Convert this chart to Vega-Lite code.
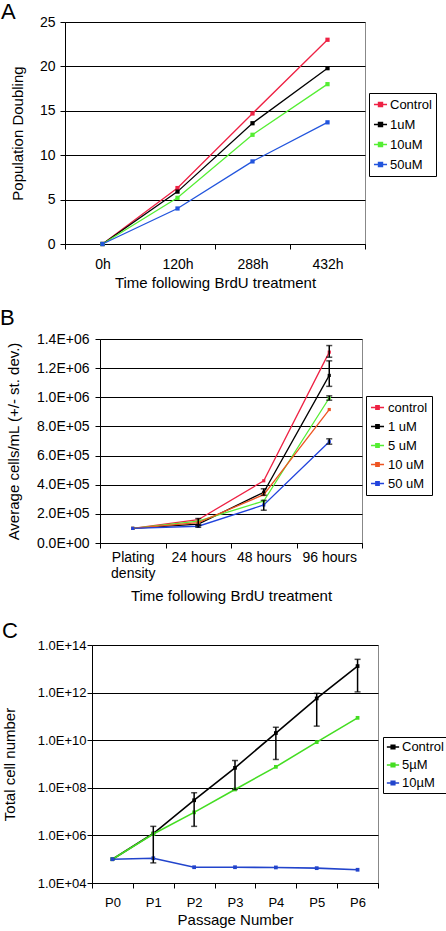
{
  "$schema": "https://vega.github.io/schema/vega-lite/v6.json",
  "padding": 0,
  "spacing": 15,
  "resolve": {
    "scale": {"x": "independent", "y": "independent", "color": "independent"},
    "axis": {"x": "independent", "y": "independent"},
    "legend": {"color": "independent"}
  },
  "config": {
    "font": "Liberation Sans",
    "view": {"stroke": "#888888", "strokeWidth": 1},
    "axis": {
      "labelFont": "Liberation Sans", "titleFont": "Liberation Sans",
      "labelFontSize": 14, "titleFontSize": 15, "titleFontWeight": "normal",
      "labelColor": "#000", "titleColor": "#000", "domainColor": "#000", "tickColor": "#000",
      "gridColor": "#000", "gridOpacity": 1, "gridWidth": 1, "tickSize": 5, "labelOverlap": false
    },
    "axisX": {"grid": false, "labelAngle": 0, "tickBand": "extent"},
    "legend": {
      "labelFont": "Liberation Sans", "labelFontSize": 13, "labelColor": "#000",
      "strokeColor": "#000", "fillColor": "#ffffff", "padding": 4, "rowPadding": 5,
      "symbolSize": 170, "symbolStrokeWidth": 1.5, "labelOffset": 2, "title": null
    },
    "title": {"font": "Liberation Sans", "fontSize": 22, "fontWeight": "normal", "color": "#000", "anchor": "start", "frame": "bounds"}
  },
  "datasets": {
    "a": [
      {"t": "0h", "s": "Control", "v": 0}, {"t": "120h", "s": "Control", "v": 6.3}, {"t": "288h", "s": "Control", "v": 14.7}, {"t": "432h", "s": "Control", "v": 23.0},
      {"t": "0h", "s": "1uM", "v": 0}, {"t": "120h", "s": "1uM", "v": 5.9}, {"t": "288h", "s": "1uM", "v": 13.6}, {"t": "432h", "s": "1uM", "v": 19.8},
      {"t": "0h", "s": "10uM", "v": 0}, {"t": "120h", "s": "10uM", "v": 5.2}, {"t": "288h", "s": "10uM", "v": 12.3}, {"t": "432h", "s": "10uM", "v": 18.0},
      {"t": "0h", "s": "50uM", "v": 0}, {"t": "120h", "s": "50uM", "v": 4.0}, {"t": "288h", "s": "50uM", "v": 9.3}, {"t": "432h", "s": "50uM", "v": 13.7}
    ],
    "b": [
      {"t": "Plating density", "s": "control", "v": 100000}, {"t": "24 hours", "s": "control", "v": 160000}, {"t": "48 hours", "s": "control", "v": 427000}, {"t": "96 hours", "s": "control", "v": 1310000},
      {"t": "Plating density", "s": "1 uM", "v": 100000}, {"t": "24 hours", "s": "1 uM", "v": 130000}, {"t": "48 hours", "s": "1 uM", "v": 348000}, {"t": "96 hours", "s": "1 uM", "v": 1150000},
      {"t": "Plating density", "s": "5 uM", "v": 100000}, {"t": "24 hours", "s": "5 uM", "v": 150000}, {"t": "48 hours", "s": "5 uM", "v": 288000}, {"t": "96 hours", "s": "5 uM", "v": 995000},
      {"t": "Plating density", "s": "10 uM", "v": 100000}, {"t": "24 hours", "s": "10 uM", "v": 140000}, {"t": "48 hours", "s": "10 uM", "v": 332000}, {"t": "96 hours", "s": "10 uM", "v": 916000},
      {"t": "Plating density", "s": "50 uM", "v": 100000}, {"t": "24 hours", "s": "50 uM", "v": 115000}, {"t": "48 hours", "s": "50 uM", "v": 261000}, {"t": "96 hours", "s": "50 uM", "v": 695000}
    ],
    "be": [
      {"t": "24 hours", "v": 125000, "v2": 168000},
      {"t": "24 hours", "v": 108000, "v2": 120000},
      {"t": "48 hours", "v": 328000, "v2": 372000},
      {"t": "48 hours", "v": 225000, "v2": 292000},
      {"t": "96 hours", "v": 1275000, "v2": 1355000},
      {"t": "96 hours", "v": 1075000, "v2": 1250000},
      {"t": "96 hours", "v": 980000, "v2": 1010000},
      {"t": "96 hours", "v": 678000, "v2": 715000}
    ],
    "c": [
      {"p": "P0", "s": "Control", "v": 1e5}, {"p": "P1", "s": "Control", "v": 1.2e6}, {"p": "P2", "s": "Control", "v": 3e7}, {"p": "P3", "s": "Control", "v": 6.9e8}, {"p": "P4", "s": "Control", "v": 2e10}, {"p": "P5", "s": "Control", "v": 5.7e11}, {"p": "P6", "s": "Control", "v": 1.3e13},
      {"p": "P0", "s": "5µM", "v": 1e5}, {"p": "P1", "s": "5µM", "v": 1.15e6}, {"p": "P2", "s": "5µM", "v": 9.3e6}, {"p": "P3", "s": "5µM", "v": 8.5e7}, {"p": "P4", "s": "5µM", "v": 7.6e8}, {"p": "P5", "s": "5µM", "v": 8.3e9}, {"p": "P6", "s": "5µM", "v": 8.7e10},
      {"p": "P0", "s": "10µM", "v": 1e5}, {"p": "P1", "s": "10µM", "v": 1.1e5}, {"p": "P2", "s": "10µM", "v": 4.6e4}, {"p": "P3", "s": "10µM", "v": 4.6e4}, {"p": "P4", "s": "10µM", "v": 4.5e4}, {"p": "P5", "s": "10µM", "v": 4.2e4}, {"p": "P6", "s": "10µM", "v": 3.6e4}
    ],
    "ce": [
      {"p": "P1", "v": 7e4, "v2": 2.4e6},
      {"p": "P2", "v": 2.4e6, "v2": 6.2e7},
      {"p": "P3", "v": 8.5e7, "v2": 1.4e9},
      {"p": "P4", "v": 1.55e9, "v2": 3.5e10},
      {"p": "P5", "v": 3.9e10, "v2": 9.3e11},
      {"p": "P6", "v": 1.07e12, "v2": 2.5e13}
    ],
    "none": []
  },
  "vconcat": [
    {
      "title": {"text": "A", "dx": 1, "offset": -9},
      "spacing": 0,
      "resolve": {"scale": {"x": "independent", "y": "independent", "color": "independent"}, "legend": {"color": "independent"}},
      "hconcat": [
        {"width": 9, "height": 1, "data": {"name": "none"}, "mark": "point", "view": {"stroke": null}},
        {
          "width": 300, "height": 222,
          "data": {"name": "a"},
          "mark": {"type": "line", "strokeWidth": 1.3, "point": {"shape": "square", "size": 18, "filled": true}},
          "encoding": {
            "x": {"field": "t", "type": "nominal", "sort": ["0h", "120h", "288h", "432h"],
                  "scale": {"type": "band", "paddingInner": 0, "paddingOuter": 0},
                  "axis": {"title": "Time following BrdU treatment", "labelPadding": 8, "titlePadding": 4}},
            "y": {"field": "v", "type": "quantitative", "scale": {"domain": [0, 25]},
                  "axis": {"title": "Population Doubling", "values": [0, 5, 10, 15, 20, 25], "labelPadding": 5, "titlePadding": 14}},
            "color": {"field": "s", "type": "nominal", "sort": ["Control", "1uM", "10uM", "50uM"],
                      "scale": {"domain": ["Control", "1uM", "10uM", "50uM"], "range": ["#ee2244", "#000000", "#55ee33", "#2255dd"]},
                      "legend": {"orient": "none", "legendX": 304, "legendY": 71, "symbolType": "M-1,0H1M-0.3,-0.3H0.3V0.3H-0.3Z"}}
          }
        }
      ]
    },
    {
      "title": {"text": "B", "dx": 0, "offset": 2},
      "spacing": 0,
      "resolve": {"scale": {"x": "independent", "y": "independent", "color": "independent"}, "legend": {"color": "independent"}},
      "hconcat": [
        {"width": 5, "height": 1, "data": {"name": "none"}, "mark": "point", "view": {"stroke": null}},
        {
          "width": 262, "height": 204,
          "encoding": {
            "x": {"field": "t", "type": "nominal", "sort": ["Plating density", "24 hours", "48 hours", "96 hours"],
                  "scale": {"type": "band", "paddingInner": 0, "paddingOuter": 0},
                  "axis": {"title": "Time following BrdU treatment", "labelPadding": 2, "titlePadding": 8,
                           "labelExpr": "datum.label == 'Plating density' ? ['Plating', 'density'] : datum.label"}},
            "y": {"field": "v", "type": "quantitative", "scale": {"domain": [0, 1400000]},
                  "axis": {"title": "Average cells/mL (+/- st. dev.)", "values": [0, 200000, 400000, 600000, 800000, 1000000, 1200000, 1400000], "labelPadding": 6, "titlePadding": 15,
                           "labelExpr": "datum.value == 0 ? '0.0E+00' : format(datum.value / pow(10, floor(log(datum.value) / LN10 + 1e-9)), '.1f') + 'E+0' + floor(log(datum.value) / LN10 + 1e-9)"}}
          },
          "layer": [
            {
              "data": {"name": "b"},
              "mark": {"type": "line", "strokeWidth": 1.3, "point": {"shape": "square", "size": 10, "filled": true}},
              "encoding": {
                "color": {"field": "s", "type": "nominal", "sort": ["control", "1 uM", "5 uM", "10 uM", "50 uM"],
                          "scale": {"domain": ["control", "1 uM", "5 uM", "10 uM", "50 uM"], "range": ["#ee2244", "#000000", "#55ee33", "#ee5522", "#2244dd"]},
                          "legend": {"orient": "none", "legendX": 266, "legendY": 57, "padding": 4, "rowPadding": 4, "labelOffset": 3, "symbolType": "M-1,0H1M-0.25,-0.25H0.25V0.25H-0.25Z"}}
              }
            },
            {
              "data": {"name": "be"},
              "mark": {"type": "errorbar", "color": "#000", "thickness": 1.5, "ticks": {"size": 6, "thickness": 1.5, "color": "#000"}},
              "encoding": {"y2": {"field": "v2"}}
            }
          ]
        }
      ]
    },
    {
      "title": {"text": "C", "dx": 2, "offset": -4},
      "spacing": 0,
      "resolve": {"scale": {"x": "independent", "y": "independent", "color": "independent"}, "legend": {"color": "independent"}},
      "hconcat": [
        {"width": 1, "height": 1, "data": {"name": "none"}, "mark": "point", "view": {"stroke": null}},
        {
          "width": 286, "height": 238,
          "encoding": {
            "x": {"field": "p", "type": "nominal", "sort": ["P0", "P1", "P2", "P3", "P4", "P5", "P6"],
                  "scale": {"type": "band", "paddingInner": 0, "paddingOuter": 0},
                  "axis": {"title": "Passage Number", "labelPadding": 8, "titlePadding": 3, "labelFontSize": 13}},
            "y": {"field": "v", "type": "quantitative", "scale": {"type": "log", "domain": [1e4, 1e14]},
                  "axis": {"title": "Total cell number", "values": [1e4, 1e6, 1e8, 1e10, 1e12, 1e14], "labelPadding": 1, "titlePadding": 20, "labelFontSize": 13,
                           "labelExpr": "'1.0E+' + (round(log(datum.value) / LN10) < 10 ? '0' : '') + round(log(datum.value) / LN10)"}}
          },
          "layer": [
            {
              "data": {"name": "c"},
              "mark": {"type": "line", "strokeWidth": 1.6, "point": {"shape": "square", "size": 14, "filled": true}},
              "encoding": {
                "color": {"field": "s", "type": "nominal", "sort": ["Control", "5µM", "10µM"],
                          "scale": {"domain": ["Control", "5µM", "10µM"], "range": ["#000000", "#44dd22", "#2244cc"]},
                          "legend": {"orient": "none", "legendX": 291, "legendY": 92, "padding": 3, "rowPadding": 4, "symbolSize": 150, "symbolType": "M-1,0H1M-0.3,-0.3H0.3V0.3H-0.3Z"}}
              }
            },
            {
              "data": {"name": "ce"},
              "mark": {"type": "errorbar", "color": "#000", "thickness": 1.5, "ticks": {"size": 6, "thickness": 1.5, "color": "#000"}},
              "encoding": {"y2": {"field": "v2"}}
            }
          ]
        }
      ]
    }
  ]
}
